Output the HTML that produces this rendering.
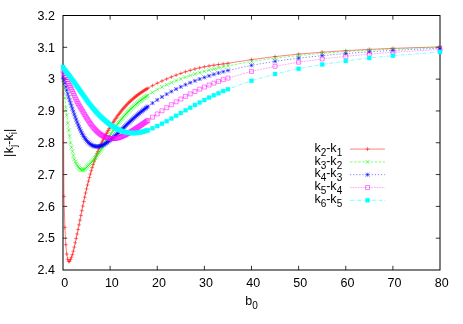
<!DOCTYPE html>
<html><head><meta charset="utf-8"><title>plot</title>
<style>
html,body{margin:0;padding:0;background:#fff;}
body{width:463px;height:324px;overflow:hidden;}
svg{display:block;will-change:transform;}
text{font-family:"Liberation Sans",sans-serif;font-size:12.5px;fill:#000;}
</style></head><body>
<svg width="463" height="324" viewBox="0 0 463 324">
<rect width="463" height="324" fill="#fff"/>
<g id="axes">
<rect x="63.0" y="15.5" width="377.0" height="254.5" fill="none" stroke="#000" stroke-width="1"/>
<path d="M110.12 270.0v-4.2M110.12 15.5v4.2M63.0 238.19h4.2M440.0 238.19h-4.2M157.25 270.0v-4.2M157.25 15.5v4.2M63.0 206.38h4.2M440.0 206.38h-4.2M204.38 270.0v-4.2M204.38 15.5v4.2M63.0 174.56h4.2M440.0 174.56h-4.2M251.5 270.0v-4.2M251.5 15.5v4.2M63.0 142.75h4.2M440.0 142.75h-4.2M298.62 270.0v-4.2M298.62 15.5v4.2M63.0 110.94h4.2M440.0 110.94h-4.2M345.75 270.0v-4.2M345.75 15.5v4.2M63.0 79.13h4.2M440.0 79.13h-4.2M392.88 270.0v-4.2M392.88 15.5v4.2M63.0 47.31h4.2M440.0 47.31h-4.2" stroke="#000" stroke-width="0.8" fill="none"/>
</g>
<g id="curves">
<path d="M63.35 80L63.94 196.44L64.89 227.49L65.83 244.68L66.77 254.08L67.71 259.36L68.66 261.59L69.6 261.22L70.54 259.51L71.48 257.29L72.42 254.55L73.37 251.17L74.31 247.14L75.25 242.79L76.2 238.41L77.14 233.99L78.08 229.48L79.02 224.85L79.97 220.14L80.91 215.41L81.85 210.72L82.79 206.1L83.73 201.59L84.68 197.21L85.62 192.97L86.56 188.89L87.5 184.96L88.45 181.19L89.39 177.57L90.33 174.1L91.28 170.78L92.22 167.6L93.16 164.57L94.1 161.68L95.05 158.92L95.99 156.29L96.93 153.79L97.87 151.41L98.81 149.13L99.76 146.96L100.7 144.86L101.64 142.85L102.59 140.9L103.53 139.02L104.47 137.2L105.41 135.43L106.36 133.7L107.3 132.01L108.24 130.37L109.18 128.75L110.12 127.17L111.07 125.62L112.01 124.11L112.95 122.63L113.9 121.19L114.84 119.78L115.78 118.4L116.72 117.05L117.67 115.74L118.61 114.46L119.55 113.22L120.49 112L121.44 110.82L122.38 109.67L123.32 108.56L124.26 107.47L125.21 106.41L126.15 105.39L127.09 104.39L128.03 103.42L128.97 102.48L129.92 101.57L130.86 100.69L131.8 99.83L132.75 99L133.69 98.19L134.63 97.4L135.57 96.64L136.52 95.89L137.46 95.17L138.4 94.46L139.34 93.77L140.29 93.1L141.23 92.45L142.17 91.81L143.11 91.18L144.06 90.57L145 89.97L145.94 89.39L146.88 88.82L147.82 88.26L152.54 85.62L157.25 83.21L161.96 80.99L166.68 78.92L171.39 76.97L176.1 75.12L180.81 73.39L185.53 71.79L190.24 70.33L194.95 69.01L199.66 67.84L204.38 66.81L209.09 65.94L213.8 65.21L218.51 64.55L223.22 63.93L227.94 63.28L251.5 59.65L275.06 56.55L298.62 54.12L322.19 52.18L345.75 50.63L369.31 49.38L392.88 48.36L440 46.87" fill="none" stroke="#ff0000" stroke-width="0.5"/>
<path d="M61.35 80H65.35M63.35 78V82M61.94 196.44H65.94M63.94 194.44V198.44M62.89 227.49H66.89M64.89 225.49V229.49M63.83 244.68H67.83M65.83 242.68V246.68M64.77 254.08H68.77M66.77 252.08V256.08M65.71 259.36H69.71M67.71 257.36V261.36M66.66 261.59H70.66M68.66 259.59V263.59M67.6 261.22H71.6M69.6 259.22V263.22M68.54 259.51H72.54M70.54 257.51V261.51M69.48 257.29H73.48M71.48 255.29V259.29M70.42 254.55H74.42M72.42 252.55V256.55M71.37 251.17H75.37M73.37 249.17V253.17M72.31 247.14H76.31M74.31 245.14V249.14M73.25 242.79H77.25M75.25 240.79V244.79M74.2 238.41H78.2M76.2 236.41V240.41M75.14 233.99H79.14M77.14 231.99V235.99M76.08 229.48H80.08M78.08 227.48V231.48M77.02 224.85H81.02M79.02 222.85V226.85M77.97 220.14H81.97M79.97 218.14V222.14M78.91 215.41H82.91M80.91 213.41V217.41M79.85 210.72H83.85M81.85 208.72V212.72M80.79 206.1H84.79M82.79 204.1V208.1M81.73 201.59H85.73M83.73 199.59V203.59M82.68 197.21H86.68M84.68 195.21V199.21M83.62 192.97H87.62M85.62 190.97V194.97M84.56 188.89H88.56M86.56 186.89V190.89M85.5 184.96H89.5M87.5 182.96V186.96M86.45 181.19H90.45M88.45 179.19V183.19M87.39 177.57H91.39M89.39 175.57V179.57M88.33 174.1H92.33M90.33 172.1V176.1M89.28 170.78H93.28M91.28 168.78V172.78M90.22 167.6H94.22M92.22 165.6V169.6M91.16 164.57H95.16M93.16 162.57V166.57M92.1 161.68H96.1M94.1 159.68V163.68M93.05 158.92H97.05M95.05 156.92V160.92M93.99 156.29H97.99M95.99 154.29V158.29M94.93 153.79H98.93M96.93 151.79V155.79M95.87 151.41H99.87M97.87 149.41V153.41M96.81 149.13H100.81M98.81 147.13V151.13M97.76 146.96H101.76M99.76 144.96V148.96M98.7 144.86H102.7M100.7 142.86V146.86M99.64 142.85H103.64M101.64 140.85V144.85M100.59 140.9H104.59M102.59 138.9V142.9M101.53 139.02H105.53M103.53 137.02V141.02M102.47 137.2H106.47M104.47 135.2V139.2M103.41 135.43H107.41M105.41 133.43V137.43M104.36 133.7H108.36M106.36 131.7V135.7M105.3 132.01H109.3M107.3 130.01V134.01M106.24 130.37H110.24M108.24 128.37V132.37M107.18 128.75H111.18M109.18 126.75V130.75M108.12 127.17H112.12M110.12 125.17V129.17M109.07 125.62H113.07M111.07 123.62V127.62M110.01 124.11H114.01M112.01 122.11V126.11M110.95 122.63H114.95M112.95 120.63V124.63M111.9 121.19H115.9M113.9 119.19V123.19M112.84 119.78H116.84M114.84 117.78V121.78M113.78 118.4H117.78M115.78 116.4V120.4M114.72 117.05H118.72M116.72 115.05V119.05M115.67 115.74H119.67M117.67 113.74V117.74M116.61 114.46H120.61M118.61 112.46V116.46M117.55 113.22H121.55M119.55 111.22V115.22M118.49 112H122.49M120.49 110V114M119.44 110.82H123.44M121.44 108.82V112.82M120.38 109.67H124.38M122.38 107.67V111.67M121.32 108.56H125.32M123.32 106.56V110.56M122.26 107.47H126.26M124.26 105.47V109.47M123.21 106.41H127.21M125.21 104.41V108.41M124.15 105.39H128.15M126.15 103.39V107.39M125.09 104.39H129.09M127.09 102.39V106.39M126.03 103.42H130.03M128.03 101.42V105.42M126.97 102.48H130.97M128.97 100.48V104.48M127.92 101.57H131.92M129.92 99.57V103.57M128.86 100.69H132.86M130.86 98.69V102.69M129.8 99.83H133.8M131.8 97.83V101.83M130.75 99H134.75M132.75 97V101M131.69 98.19H135.69M133.69 96.19V100.19M132.63 97.4H136.63M134.63 95.4V99.4M133.57 96.64H137.57M135.57 94.64V98.64M134.52 95.89H138.52M136.52 93.89V97.89M135.46 95.17H139.46M137.46 93.17V97.17M136.4 94.46H140.4M138.4 92.46V96.46M137.34 93.77H141.34M139.34 91.77V95.77M138.29 93.1H142.29M140.29 91.1V95.1M139.23 92.45H143.23M141.23 90.45V94.45M140.17 91.81H144.17M142.17 89.81V93.81M141.11 91.18H145.11M143.11 89.18V93.18M142.06 90.57H146.06M144.06 88.57V92.57M143 89.97H147M145 87.97V91.97M143.94 89.39H147.94M145.94 87.39V91.39M144.88 88.82H148.88M146.88 86.82V90.82M145.82 88.26H149.82M147.82 86.26V90.26M150.54 85.62H154.54M152.54 83.62V87.62M155.25 83.21H159.25M157.25 81.21V85.21M159.96 80.99H163.96M161.96 78.99V82.99M164.68 78.92H168.68M166.68 76.92V80.92M169.39 76.97H173.39M171.39 74.97V78.97M174.1 75.12H178.1M176.1 73.12V77.12M178.81 73.39H182.81M180.81 71.39V75.39M183.53 71.79H187.53M185.53 69.79V73.79M188.24 70.33H192.24M190.24 68.33V72.33M192.95 69.01H196.95M194.95 67.01V71.01M197.66 67.84H201.66M199.66 65.84V69.84M202.38 66.81H206.38M204.38 64.81V68.81M207.09 65.94H211.09M209.09 63.94V67.94M211.8 65.21H215.8M213.8 63.21V67.21M216.51 64.55H220.51M218.51 62.55V66.55M221.22 63.93H225.22M223.22 61.93V65.93M225.94 63.28H229.94M227.94 61.28V65.28M249.5 59.65H253.5M251.5 57.65V61.65M273.06 56.55H277.06M275.06 54.55V58.55M296.62 54.12H300.62M298.62 52.12V56.12M320.19 52.18H324.19M322.19 50.18V54.18M343.75 50.63H347.75M345.75 48.63V52.63M367.31 49.38H371.31M369.31 47.38V51.38M390.88 48.36H394.88M392.88 46.36V50.36M438 46.87H442M440 44.87V48.87" fill="none" stroke="#ff0000" stroke-width="0.5"/>
<path d="M63 80.5L63.94 88.32L64.89 98.14L65.83 107.54L66.77 115.35L67.71 123.3L68.66 130.03L69.6 136.29L70.54 142.83L71.48 147.53L72.42 151.61L73.37 155.79L74.31 159.18L75.25 161.6L76.2 163.51L77.14 165.21L78.08 166.73L79.02 167.99L79.97 168.97L80.91 169.63L81.85 169.97L82.79 169.96L83.73 169.62L84.68 169.02L85.62 168.24L86.56 167.35L87.5 166.4L88.45 165.43L89.39 164.45L90.33 163.45L91.28 162.43L92.22 161.38L93.16 160.3L94.1 159.18L95.05 158.02L95.99 156.83L96.93 155.59L97.87 154.31L98.81 153L99.76 151.64L100.7 150.24L101.64 148.8L102.59 147.32L103.53 145.82L104.47 144.31L105.41 142.78L106.36 141.25L107.3 139.73L108.24 138.2L109.18 136.69L110.12 135.19L111.07 133.7L112.01 132.24L112.95 130.8L113.9 129.38L114.84 127.99L115.78 126.63L116.72 125.29L117.67 123.99L118.61 122.72L119.55 121.49L120.49 120.28L121.44 119.11L122.38 117.97L123.32 116.85L124.26 115.77L125.21 114.71L126.15 113.68L127.09 112.67L128.03 111.68L128.97 110.72L129.92 109.78L130.86 108.87L131.8 107.97L132.75 107.09L133.69 106.23L134.63 105.4L135.57 104.57L136.52 103.77L137.46 102.99L138.4 102.22L139.34 101.46L140.29 100.72L141.23 100L142.17 99.29L143.11 98.6L144.06 97.92L145 97.25L145.94 96.59L146.88 95.95L147.82 95.32L152.54 92.34L157.25 89.61L161.96 87.12L166.68 84.81L171.39 82.69L176.1 80.71L180.81 78.88L185.53 77.17L190.24 75.58L194.95 74.08L199.66 72.68L204.38 71.36L209.09 70.11L213.8 68.94L218.51 67.83L223.22 66.78L227.94 65.78L251.5 61.52L275.06 58.18L298.62 55.52L322.19 53.37L345.75 51.62L369.31 50.18L392.88 48.98L440 47.17" fill="none" stroke="#00ff00" stroke-width="0.5" stroke-dasharray="2.6 1.5"/>
<path d="M61 78.5L65 82.5M61 82.5L65 78.5M61.94 86.32L65.94 90.32M61.94 90.32L65.94 86.32M62.89 96.14L66.89 100.14M62.89 100.14L66.89 96.14M63.83 105.54L67.83 109.54M63.83 109.54L67.83 105.54M64.77 113.35L68.77 117.35M64.77 117.35L68.77 113.35M65.71 121.3L69.71 125.3M65.71 125.3L69.71 121.3M66.66 128.03L70.66 132.03M66.66 132.03L70.66 128.03M67.6 134.29L71.6 138.29M67.6 138.29L71.6 134.29M68.54 140.83L72.54 144.83M68.54 144.83L72.54 140.83M69.48 145.53L73.48 149.53M69.48 149.53L73.48 145.53M70.42 149.61L74.42 153.61M70.42 153.61L74.42 149.61M71.37 153.79L75.37 157.79M71.37 157.79L75.37 153.79M72.31 157.18L76.31 161.18M72.31 161.18L76.31 157.18M73.25 159.6L77.25 163.6M73.25 163.6L77.25 159.6M74.2 161.51L78.2 165.51M74.2 165.51L78.2 161.51M75.14 163.21L79.14 167.21M75.14 167.21L79.14 163.21M76.08 164.73L80.08 168.73M76.08 168.73L80.08 164.73M77.02 165.99L81.02 169.99M77.02 169.99L81.02 165.99M77.97 166.97L81.97 170.97M77.97 170.97L81.97 166.97M78.91 167.63L82.91 171.63M78.91 171.63L82.91 167.63M79.85 167.97L83.85 171.97M79.85 171.97L83.85 167.97M80.79 167.96L84.79 171.96M80.79 171.96L84.79 167.96M81.73 167.62L85.73 171.62M81.73 171.62L85.73 167.62M82.68 167.02L86.68 171.02M82.68 171.02L86.68 167.02M83.62 166.24L87.62 170.24M83.62 170.24L87.62 166.24M84.56 165.35L88.56 169.35M84.56 169.35L88.56 165.35M85.5 164.4L89.5 168.4M85.5 168.4L89.5 164.4M86.45 163.43L90.45 167.43M86.45 167.43L90.45 163.43M87.39 162.45L91.39 166.45M87.39 166.45L91.39 162.45M88.33 161.45L92.33 165.45M88.33 165.45L92.33 161.45M89.28 160.43L93.28 164.43M89.28 164.43L93.28 160.43M90.22 159.38L94.22 163.38M90.22 163.38L94.22 159.38M91.16 158.3L95.16 162.3M91.16 162.3L95.16 158.3M92.1 157.18L96.1 161.18M92.1 161.18L96.1 157.18M93.05 156.02L97.05 160.02M93.05 160.02L97.05 156.02M93.99 154.83L97.99 158.83M93.99 158.83L97.99 154.83M94.93 153.59L98.93 157.59M94.93 157.59L98.93 153.59M95.87 152.31L99.87 156.31M95.87 156.31L99.87 152.31M96.81 151L100.81 155M96.81 155L100.81 151M97.76 149.64L101.76 153.64M97.76 153.64L101.76 149.64M98.7 148.24L102.7 152.24M98.7 152.24L102.7 148.24M99.64 146.8L103.64 150.8M99.64 150.8L103.64 146.8M100.59 145.32L104.59 149.32M100.59 149.32L104.59 145.32M101.53 143.82L105.53 147.82M101.53 147.82L105.53 143.82M102.47 142.31L106.47 146.31M102.47 146.31L106.47 142.31M103.41 140.78L107.41 144.78M103.41 144.78L107.41 140.78M104.36 139.25L108.36 143.25M104.36 143.25L108.36 139.25M105.3 137.73L109.3 141.73M105.3 141.73L109.3 137.73M106.24 136.2L110.24 140.2M106.24 140.2L110.24 136.2M107.18 134.69L111.18 138.69M107.18 138.69L111.18 134.69M108.12 133.19L112.12 137.19M108.12 137.19L112.12 133.19M109.07 131.7L113.07 135.7M109.07 135.7L113.07 131.7M110.01 130.24L114.01 134.24M110.01 134.24L114.01 130.24M110.95 128.8L114.95 132.8M110.95 132.8L114.95 128.8M111.9 127.38L115.9 131.38M111.9 131.38L115.9 127.38M112.84 125.99L116.84 129.99M112.84 129.99L116.84 125.99M113.78 124.63L117.78 128.63M113.78 128.63L117.78 124.63M114.72 123.29L118.72 127.29M114.72 127.29L118.72 123.29M115.67 121.99L119.67 125.99M115.67 125.99L119.67 121.99M116.61 120.72L120.61 124.72M116.61 124.72L120.61 120.72M117.55 119.49L121.55 123.49M117.55 123.49L121.55 119.49M118.49 118.28L122.49 122.28M118.49 122.28L122.49 118.28M119.44 117.11L123.44 121.11M119.44 121.11L123.44 117.11M120.38 115.97L124.38 119.97M120.38 119.97L124.38 115.97M121.32 114.85L125.32 118.85M121.32 118.85L125.32 114.85M122.26 113.77L126.26 117.77M122.26 117.77L126.26 113.77M123.21 112.71L127.21 116.71M123.21 116.71L127.21 112.71M124.15 111.68L128.15 115.68M124.15 115.68L128.15 111.68M125.09 110.67L129.09 114.67M125.09 114.67L129.09 110.67M126.03 109.68L130.03 113.68M126.03 113.68L130.03 109.68M126.97 108.72L130.97 112.72M126.97 112.72L130.97 108.72M127.92 107.78L131.92 111.78M127.92 111.78L131.92 107.78M128.86 106.87L132.86 110.87M128.86 110.87L132.86 106.87M129.8 105.97L133.8 109.97M129.8 109.97L133.8 105.97M130.75 105.09L134.75 109.09M130.75 109.09L134.75 105.09M131.69 104.23L135.69 108.23M131.69 108.23L135.69 104.23M132.63 103.4L136.63 107.4M132.63 107.4L136.63 103.4M133.57 102.57L137.57 106.57M133.57 106.57L137.57 102.57M134.52 101.77L138.52 105.77M134.52 105.77L138.52 101.77M135.46 100.99L139.46 104.99M135.46 104.99L139.46 100.99M136.4 100.22L140.4 104.22M136.4 104.22L140.4 100.22M137.34 99.46L141.34 103.46M137.34 103.46L141.34 99.46M138.29 98.72L142.29 102.72M138.29 102.72L142.29 98.72M139.23 98L143.23 102M139.23 102L143.23 98M140.17 97.29L144.17 101.29M140.17 101.29L144.17 97.29M141.11 96.6L145.11 100.6M141.11 100.6L145.11 96.6M142.06 95.92L146.06 99.92M142.06 99.92L146.06 95.92M143 95.25L147 99.25M143 99.25L147 95.25M143.94 94.59L147.94 98.59M143.94 98.59L147.94 94.59M144.88 93.95L148.88 97.95M144.88 97.95L148.88 93.95M145.82 93.32L149.82 97.32M145.82 97.32L149.82 93.32M150.54 90.34L154.54 94.34M150.54 94.34L154.54 90.34M155.25 87.61L159.25 91.61M155.25 91.61L159.25 87.61M159.96 85.12L163.96 89.12M159.96 89.12L163.96 85.12M164.68 82.81L168.68 86.81M164.68 86.81L168.68 82.81M169.39 80.69L173.39 84.69M169.39 84.69L173.39 80.69M174.1 78.71L178.1 82.71M174.1 82.71L178.1 78.71M178.81 76.88L182.81 80.88M178.81 80.88L182.81 76.88M183.53 75.17L187.53 79.17M183.53 79.17L187.53 75.17M188.24 73.58L192.24 77.58M188.24 77.58L192.24 73.58M192.95 72.08L196.95 76.08M192.95 76.08L196.95 72.08M197.66 70.68L201.66 74.68M197.66 74.68L201.66 70.68M202.38 69.36L206.38 73.36M202.38 73.36L206.38 69.36M207.09 68.11L211.09 72.11M207.09 72.11L211.09 68.11M211.8 66.94L215.8 70.94M211.8 70.94L215.8 66.94M216.51 65.83L220.51 69.83M216.51 69.83L220.51 65.83M221.22 64.78L225.22 68.78M221.22 68.78L225.22 64.78M225.94 63.78L229.94 67.78M225.94 67.78L229.94 63.78M249.5 59.52L253.5 63.52M249.5 63.52L253.5 59.52M273.06 56.18L277.06 60.18M273.06 60.18L277.06 56.18M296.62 53.52L300.62 57.52M296.62 57.52L300.62 53.52M320.19 51.37L324.19 55.37M320.19 55.37L324.19 51.37M343.75 49.62L347.75 53.62M343.75 53.62L347.75 49.62M367.31 48.18L371.31 52.18M367.31 52.18L371.31 48.18M390.88 46.98L394.88 50.98M390.88 50.98L394.88 46.98M438 45.17L442 49.17M438 49.17L442 45.17" fill="none" stroke="#00ff00" stroke-width="0.5"/>
<path d="M63 77.2L63.94 79.8L64.89 83.18L65.83 86.79L66.77 90.39L67.71 93.84L68.66 97.11L69.6 100.18L70.54 103.12L71.48 105.98L72.42 108.8L73.37 111.61L74.31 114.38L75.25 117.09L76.2 119.72L77.14 122.26L78.08 124.68L79.02 126.98L79.97 129.15L80.91 131.18L81.85 133.08L82.79 134.84L83.73 136.46L84.68 137.94L85.62 139.29L86.56 140.52L87.5 141.62L88.45 142.59L89.39 143.45L90.33 144.2L91.28 144.83L92.22 145.36L93.16 145.79L94.1 146.11L95.05 146.35L95.99 146.49L96.93 146.54L97.87 146.51L98.81 146.4L99.76 146.21L100.7 145.94L101.64 145.6L102.59 145.19L103.53 144.72L104.47 144.19L105.41 143.62L106.36 143L107.3 142.33L108.24 141.64L109.18 140.91L110.12 140.15L111.07 139.37L112.01 138.56L112.95 137.74L113.9 136.89L114.84 136.04L115.78 135.17L116.72 134.29L117.67 133.4L118.61 132.51L119.55 131.61L120.49 130.7L121.44 129.79L122.38 128.88L123.32 127.97L124.26 127.06L125.21 126.15L126.15 125.25L127.09 124.35L128.03 123.45L128.97 122.56L129.92 121.67L130.86 120.79L131.8 119.92L132.75 119.06L133.69 118.2L134.63 117.36L135.57 116.52L136.52 115.69L137.46 114.88L138.4 114.07L139.34 113.27L140.29 112.49L141.23 111.71L142.17 110.94L143.11 110.18L144.06 109.43L145 108.7L145.94 107.97L146.88 107.25L147.82 106.53L152.54 103.12L157.25 99.92L161.96 96.94L166.68 94.16L171.39 91.56L176.1 89.12L180.81 86.84L185.53 84.7L190.24 82.69L194.95 80.81L199.66 79.04L204.38 77.39L209.09 75.83L213.8 74.37L218.51 72.99L223.22 71.7L227.94 70.48L251.5 65.3L275.06 61.3L298.62 58.15L322.19 55.62L345.75 53.56L369.31 51.85L392.88 50.41L440 48.16" fill="none" stroke="#0000ff" stroke-width="0.5" stroke-dasharray="1.2 1.9"/>
<path d="M61 77.2H65M63 75.2V79.2M61 75.2L65 79.2M61 79.2L65 75.2M61.94 79.8H65.94M63.94 77.8V81.8M61.94 77.8L65.94 81.8M61.94 81.8L65.94 77.8M62.89 83.18H66.89M64.89 81.18V85.18M62.89 81.18L66.89 85.18M62.89 85.18L66.89 81.18M63.83 86.79H67.83M65.83 84.79V88.79M63.83 84.79L67.83 88.79M63.83 88.79L67.83 84.79M64.77 90.39H68.77M66.77 88.39V92.39M64.77 88.39L68.77 92.39M64.77 92.39L68.77 88.39M65.71 93.84H69.71M67.71 91.84V95.84M65.71 91.84L69.71 95.84M65.71 95.84L69.71 91.84M66.66 97.11H70.66M68.66 95.11V99.11M66.66 95.11L70.66 99.11M66.66 99.11L70.66 95.11M67.6 100.18H71.6M69.6 98.18V102.18M67.6 98.18L71.6 102.18M67.6 102.18L71.6 98.18M68.54 103.12H72.54M70.54 101.12V105.12M68.54 101.12L72.54 105.12M68.54 105.12L72.54 101.12M69.48 105.98H73.48M71.48 103.98V107.98M69.48 103.98L73.48 107.98M69.48 107.98L73.48 103.98M70.42 108.8H74.42M72.42 106.8V110.8M70.42 106.8L74.42 110.8M70.42 110.8L74.42 106.8M71.37 111.61H75.37M73.37 109.61V113.61M71.37 109.61L75.37 113.61M71.37 113.61L75.37 109.61M72.31 114.38H76.31M74.31 112.38V116.38M72.31 112.38L76.31 116.38M72.31 116.38L76.31 112.38M73.25 117.09H77.25M75.25 115.09V119.09M73.25 115.09L77.25 119.09M73.25 119.09L77.25 115.09M74.2 119.72H78.2M76.2 117.72V121.72M74.2 117.72L78.2 121.72M74.2 121.72L78.2 117.72M75.14 122.26H79.14M77.14 120.26V124.26M75.14 120.26L79.14 124.26M75.14 124.26L79.14 120.26M76.08 124.68H80.08M78.08 122.68V126.68M76.08 122.68L80.08 126.68M76.08 126.68L80.08 122.68M77.02 126.98H81.02M79.02 124.98V128.98M77.02 124.98L81.02 128.98M77.02 128.98L81.02 124.98M77.97 129.15H81.97M79.97 127.15V131.15M77.97 127.15L81.97 131.15M77.97 131.15L81.97 127.15M78.91 131.18H82.91M80.91 129.18V133.18M78.91 129.18L82.91 133.18M78.91 133.18L82.91 129.18M79.85 133.08H83.85M81.85 131.08V135.08M79.85 131.08L83.85 135.08M79.85 135.08L83.85 131.08M80.79 134.84H84.79M82.79 132.84V136.84M80.79 132.84L84.79 136.84M80.79 136.84L84.79 132.84M81.73 136.46H85.73M83.73 134.46V138.46M81.73 134.46L85.73 138.46M81.73 138.46L85.73 134.46M82.68 137.94H86.68M84.68 135.94V139.94M82.68 135.94L86.68 139.94M82.68 139.94L86.68 135.94M83.62 139.29H87.62M85.62 137.29V141.29M83.62 137.29L87.62 141.29M83.62 141.29L87.62 137.29M84.56 140.52H88.56M86.56 138.52V142.52M84.56 138.52L88.56 142.52M84.56 142.52L88.56 138.52M85.5 141.62H89.5M87.5 139.62V143.62M85.5 139.62L89.5 143.62M85.5 143.62L89.5 139.62M86.45 142.59H90.45M88.45 140.59V144.59M86.45 140.59L90.45 144.59M86.45 144.59L90.45 140.59M87.39 143.45H91.39M89.39 141.45V145.45M87.39 141.45L91.39 145.45M87.39 145.45L91.39 141.45M88.33 144.2H92.33M90.33 142.2V146.2M88.33 142.2L92.33 146.2M88.33 146.2L92.33 142.2M89.28 144.83H93.28M91.28 142.83V146.83M89.28 142.83L93.28 146.83M89.28 146.83L93.28 142.83M90.22 145.36H94.22M92.22 143.36V147.36M90.22 143.36L94.22 147.36M90.22 147.36L94.22 143.36M91.16 145.79H95.16M93.16 143.79V147.79M91.16 143.79L95.16 147.79M91.16 147.79L95.16 143.79M92.1 146.11H96.1M94.1 144.11V148.11M92.1 144.11L96.1 148.11M92.1 148.11L96.1 144.11M93.05 146.35H97.05M95.05 144.35V148.35M93.05 144.35L97.05 148.35M93.05 148.35L97.05 144.35M93.99 146.49H97.99M95.99 144.49V148.49M93.99 144.49L97.99 148.49M93.99 148.49L97.99 144.49M94.93 146.54H98.93M96.93 144.54V148.54M94.93 144.54L98.93 148.54M94.93 148.54L98.93 144.54M95.87 146.51H99.87M97.87 144.51V148.51M95.87 144.51L99.87 148.51M95.87 148.51L99.87 144.51M96.81 146.4H100.81M98.81 144.4V148.4M96.81 144.4L100.81 148.4M96.81 148.4L100.81 144.4M97.76 146.21H101.76M99.76 144.21V148.21M97.76 144.21L101.76 148.21M97.76 148.21L101.76 144.21M98.7 145.94H102.7M100.7 143.94V147.94M98.7 143.94L102.7 147.94M98.7 147.94L102.7 143.94M99.64 145.6H103.64M101.64 143.6V147.6M99.64 143.6L103.64 147.6M99.64 147.6L103.64 143.6M100.59 145.19H104.59M102.59 143.19V147.19M100.59 143.19L104.59 147.19M100.59 147.19L104.59 143.19M101.53 144.72H105.53M103.53 142.72V146.72M101.53 142.72L105.53 146.72M101.53 146.72L105.53 142.72M102.47 144.19H106.47M104.47 142.19V146.19M102.47 142.19L106.47 146.19M102.47 146.19L106.47 142.19M103.41 143.62H107.41M105.41 141.62V145.62M103.41 141.62L107.41 145.62M103.41 145.62L107.41 141.62M104.36 143H108.36M106.36 141V145M104.36 141L108.36 145M104.36 145L108.36 141M105.3 142.33H109.3M107.3 140.33V144.33M105.3 140.33L109.3 144.33M105.3 144.33L109.3 140.33M106.24 141.64H110.24M108.24 139.64V143.64M106.24 139.64L110.24 143.64M106.24 143.64L110.24 139.64M107.18 140.91H111.18M109.18 138.91V142.91M107.18 138.91L111.18 142.91M107.18 142.91L111.18 138.91M108.12 140.15H112.12M110.12 138.15V142.15M108.12 138.15L112.12 142.15M108.12 142.15L112.12 138.15M109.07 139.37H113.07M111.07 137.37V141.37M109.07 137.37L113.07 141.37M109.07 141.37L113.07 137.37M110.01 138.56H114.01M112.01 136.56V140.56M110.01 136.56L114.01 140.56M110.01 140.56L114.01 136.56M110.95 137.74H114.95M112.95 135.74V139.74M110.95 135.74L114.95 139.74M110.95 139.74L114.95 135.74M111.9 136.89H115.9M113.9 134.89V138.89M111.9 134.89L115.9 138.89M111.9 138.89L115.9 134.89M112.84 136.04H116.84M114.84 134.04V138.04M112.84 134.04L116.84 138.04M112.84 138.04L116.84 134.04M113.78 135.17H117.78M115.78 133.17V137.17M113.78 133.17L117.78 137.17M113.78 137.17L117.78 133.17M114.72 134.29H118.72M116.72 132.29V136.29M114.72 132.29L118.72 136.29M114.72 136.29L118.72 132.29M115.67 133.4H119.67M117.67 131.4V135.4M115.67 131.4L119.67 135.4M115.67 135.4L119.67 131.4M116.61 132.51H120.61M118.61 130.51V134.51M116.61 130.51L120.61 134.51M116.61 134.51L120.61 130.51M117.55 131.61H121.55M119.55 129.61V133.61M117.55 129.61L121.55 133.61M117.55 133.61L121.55 129.61M118.49 130.7H122.49M120.49 128.7V132.7M118.49 128.7L122.49 132.7M118.49 132.7L122.49 128.7M119.44 129.79H123.44M121.44 127.79V131.79M119.44 127.79L123.44 131.79M119.44 131.79L123.44 127.79M120.38 128.88H124.38M122.38 126.88V130.88M120.38 126.88L124.38 130.88M120.38 130.88L124.38 126.88M121.32 127.97H125.32M123.32 125.97V129.97M121.32 125.97L125.32 129.97M121.32 129.97L125.32 125.97M122.26 127.06H126.26M124.26 125.06V129.06M122.26 125.06L126.26 129.06M122.26 129.06L126.26 125.06M123.21 126.15H127.21M125.21 124.15V128.15M123.21 124.15L127.21 128.15M123.21 128.15L127.21 124.15M124.15 125.25H128.15M126.15 123.25V127.25M124.15 123.25L128.15 127.25M124.15 127.25L128.15 123.25M125.09 124.35H129.09M127.09 122.35V126.35M125.09 122.35L129.09 126.35M125.09 126.35L129.09 122.35M126.03 123.45H130.03M128.03 121.45V125.45M126.03 121.45L130.03 125.45M126.03 125.45L130.03 121.45M126.97 122.56H130.97M128.97 120.56V124.56M126.97 120.56L130.97 124.56M126.97 124.56L130.97 120.56M127.92 121.67H131.92M129.92 119.67V123.67M127.92 119.67L131.92 123.67M127.92 123.67L131.92 119.67M128.86 120.79H132.86M130.86 118.79V122.79M128.86 118.79L132.86 122.79M128.86 122.79L132.86 118.79M129.8 119.92H133.8M131.8 117.92V121.92M129.8 117.92L133.8 121.92M129.8 121.92L133.8 117.92M130.75 119.06H134.75M132.75 117.06V121.06M130.75 117.06L134.75 121.06M130.75 121.06L134.75 117.06M131.69 118.2H135.69M133.69 116.2V120.2M131.69 116.2L135.69 120.2M131.69 120.2L135.69 116.2M132.63 117.36H136.63M134.63 115.36V119.36M132.63 115.36L136.63 119.36M132.63 119.36L136.63 115.36M133.57 116.52H137.57M135.57 114.52V118.52M133.57 114.52L137.57 118.52M133.57 118.52L137.57 114.52M134.52 115.69H138.52M136.52 113.69V117.69M134.52 113.69L138.52 117.69M134.52 117.69L138.52 113.69M135.46 114.88H139.46M137.46 112.88V116.88M135.46 112.88L139.46 116.88M135.46 116.88L139.46 112.88M136.4 114.07H140.4M138.4 112.07V116.07M136.4 112.07L140.4 116.07M136.4 116.07L140.4 112.07M137.34 113.27H141.34M139.34 111.27V115.27M137.34 111.27L141.34 115.27M137.34 115.27L141.34 111.27M138.29 112.49H142.29M140.29 110.49V114.49M138.29 110.49L142.29 114.49M138.29 114.49L142.29 110.49M139.23 111.71H143.23M141.23 109.71V113.71M139.23 109.71L143.23 113.71M139.23 113.71L143.23 109.71M140.17 110.94H144.17M142.17 108.94V112.94M140.17 108.94L144.17 112.94M140.17 112.94L144.17 108.94M141.11 110.18H145.11M143.11 108.18V112.18M141.11 108.18L145.11 112.18M141.11 112.18L145.11 108.18M142.06 109.43H146.06M144.06 107.43V111.43M142.06 107.43L146.06 111.43M142.06 111.43L146.06 107.43M143 108.7H147M145 106.7V110.7M143 106.7L147 110.7M143 110.7L147 106.7M143.94 107.97H147.94M145.94 105.97V109.97M143.94 105.97L147.94 109.97M143.94 109.97L147.94 105.97M144.88 107.25H148.88M146.88 105.25V109.25M144.88 105.25L148.88 109.25M144.88 109.25L148.88 105.25M145.82 106.53H149.82M147.82 104.53V108.53M145.82 104.53L149.82 108.53M145.82 108.53L149.82 104.53M150.54 103.12H154.54M152.54 101.12V105.12M150.54 101.12L154.54 105.12M150.54 105.12L154.54 101.12M155.25 99.92H159.25M157.25 97.92V101.92M155.25 97.92L159.25 101.92M155.25 101.92L159.25 97.92M159.96 96.94H163.96M161.96 94.94V98.94M159.96 94.94L163.96 98.94M159.96 98.94L163.96 94.94M164.68 94.16H168.68M166.68 92.16V96.16M164.68 92.16L168.68 96.16M164.68 96.16L168.68 92.16M169.39 91.56H173.39M171.39 89.56V93.56M169.39 89.56L173.39 93.56M169.39 93.56L173.39 89.56M174.1 89.12H178.1M176.1 87.12V91.12M174.1 87.12L178.1 91.12M174.1 91.12L178.1 87.12M178.81 86.84H182.81M180.81 84.84V88.84M178.81 84.84L182.81 88.84M178.81 88.84L182.81 84.84M183.53 84.7H187.53M185.53 82.7V86.7M183.53 82.7L187.53 86.7M183.53 86.7L187.53 82.7M188.24 82.69H192.24M190.24 80.69V84.69M188.24 80.69L192.24 84.69M188.24 84.69L192.24 80.69M192.95 80.81H196.95M194.95 78.81V82.81M192.95 78.81L196.95 82.81M192.95 82.81L196.95 78.81M197.66 79.04H201.66M199.66 77.04V81.04M197.66 77.04L201.66 81.04M197.66 81.04L201.66 77.04M202.38 77.39H206.38M204.38 75.39V79.39M202.38 75.39L206.38 79.39M202.38 79.39L206.38 75.39M207.09 75.83H211.09M209.09 73.83V77.83M207.09 73.83L211.09 77.83M207.09 77.83L211.09 73.83M211.8 74.37H215.8M213.8 72.37V76.37M211.8 72.37L215.8 76.37M211.8 76.37L215.8 72.37M216.51 72.99H220.51M218.51 70.99V74.99M216.51 70.99L220.51 74.99M216.51 74.99L220.51 70.99M221.22 71.7H225.22M223.22 69.7V73.7M221.22 69.7L225.22 73.7M221.22 73.7L225.22 69.7M225.94 70.48H229.94M227.94 68.48V72.48M225.94 68.48L229.94 72.48M225.94 72.48L229.94 68.48M249.5 65.3H253.5M251.5 63.3V67.3M249.5 63.3L253.5 67.3M249.5 67.3L253.5 63.3M273.06 61.3H277.06M275.06 59.3V63.3M273.06 59.3L277.06 63.3M273.06 63.3L277.06 59.3M296.62 58.15H300.62M298.62 56.15V60.15M296.62 56.15L300.62 60.15M296.62 60.15L300.62 56.15M320.19 55.62H324.19M322.19 53.62V57.62M320.19 53.62L324.19 57.62M320.19 57.62L324.19 53.62M343.75 53.56H347.75M345.75 51.56V55.56M343.75 51.56L347.75 55.56M343.75 55.56L347.75 51.56M367.31 51.85H371.31M369.31 49.85V53.85M367.31 49.85L371.31 53.85M367.31 53.85L371.31 49.85M390.88 50.41H394.88M392.88 48.41V52.41M390.88 48.41L394.88 52.41M390.88 52.41L394.88 48.41M438 48.16H442M440 46.16V50.16M438 46.16L442 50.16M438 50.16L442 46.16" fill="none" stroke="#0000ff" stroke-width="0.5"/>
<path d="M63 71.3L63.94 73.4L64.89 75.48L65.83 77.53L66.77 79.55L67.71 81.53L68.66 83.48L69.6 85.4L70.54 87.32L71.48 89.28L72.42 91.33L73.37 93.46L74.31 95.65L75.25 97.79L76.2 99.84L77.14 101.74L78.08 103.48L79.02 105.11L79.97 106.69L80.91 108.23L81.85 109.78L82.79 111.35L83.73 112.95L84.68 114.56L85.62 116.17L86.56 117.74L87.5 119.26L88.45 120.73L89.39 122.15L90.33 123.51L91.28 124.82L92.22 126.06L93.16 127.24L94.1 128.36L95.05 129.41L95.99 130.41L96.93 131.34L97.87 132.21L98.81 133.02L99.76 133.78L100.7 134.47L101.64 135.11L102.59 135.69L103.53 136.21L104.47 136.68L105.41 137.09L106.36 137.45L107.3 137.76L108.24 138.01L109.18 138.22L110.12 138.37L111.07 138.47L112.01 138.53L112.95 138.54L113.9 138.5L114.84 138.42L115.78 138.29L116.72 138.12L117.67 137.9L118.61 137.65L119.55 137.35L120.49 137.02L121.44 136.66L122.38 136.27L123.32 135.85L124.26 135.4L125.21 134.94L126.15 134.45L127.09 133.94L128.03 133.42L128.97 132.88L129.92 132.32L130.86 131.75L131.8 131.17L132.75 130.58L133.69 129.98L134.63 129.38L135.57 128.76L136.52 128.14L137.46 127.52L138.4 126.89L139.34 126.25L140.29 125.61L141.23 124.97L142.17 124.33L143.11 123.68L144.06 123.03L145 122.38L145.94 121.73L146.88 121.08L147.82 120.43L152.54 117.17L157.25 113.95L161.96 110.79L166.68 107.7L171.39 104.7L176.1 101.82L180.81 99.04L185.53 96.39L190.24 93.86L194.95 91.46L199.66 89.19L204.38 87.05L209.09 85.03L213.8 83.13L218.51 81.35L223.22 79.67L227.94 78.09L251.5 71.4L275.06 66.25L298.62 62.2L322.19 58.96L345.75 56.32L369.31 54.14L392.88 52.32L440 49.47" fill="none" stroke="#ff00ff" stroke-width="0.5" stroke-dasharray="0.7 0.9"/>
<path d="M61 69.3H65V73.3H61ZM61.94 71.4H65.94V75.4H61.94ZM62.89 73.48H66.89V77.48H62.89ZM63.83 75.53H67.83V79.53H63.83ZM64.77 77.55H68.77V81.55H64.77ZM65.71 79.53H69.71V83.53H65.71ZM66.66 81.48H70.66V85.48H66.66ZM67.6 83.4H71.6V87.4H67.6ZM68.54 85.32H72.54V89.32H68.54ZM69.48 87.28H73.48V91.28H69.48ZM70.42 89.33H74.42V93.33H70.42ZM71.37 91.46H75.37V95.46H71.37ZM72.31 93.65H76.31V97.65H72.31ZM73.25 95.79H77.25V99.79H73.25ZM74.2 97.84H78.2V101.84H74.2ZM75.14 99.74H79.14V103.74H75.14ZM76.08 101.48H80.08V105.48H76.08ZM77.02 103.11H81.02V107.11H77.02ZM77.97 104.69H81.97V108.69H77.97ZM78.91 106.23H82.91V110.23H78.91ZM79.85 107.78H83.85V111.78H79.85ZM80.79 109.35H84.79V113.35H80.79ZM81.73 110.95H85.73V114.95H81.73ZM82.68 112.56H86.68V116.56H82.68ZM83.62 114.17H87.62V118.17H83.62ZM84.56 115.74H88.56V119.74H84.56ZM85.5 117.26H89.5V121.26H85.5ZM86.45 118.73H90.45V122.73H86.45ZM87.39 120.15H91.39V124.15H87.39ZM88.33 121.51H92.33V125.51H88.33ZM89.28 122.82H93.28V126.82H89.28ZM90.22 124.06H94.22V128.06H90.22ZM91.16 125.24H95.16V129.24H91.16ZM92.1 126.36H96.1V130.36H92.1ZM93.05 127.41H97.05V131.41H93.05ZM93.99 128.41H97.99V132.41H93.99ZM94.93 129.34H98.93V133.34H94.93ZM95.87 130.21H99.87V134.21H95.87ZM96.81 131.02H100.81V135.02H96.81ZM97.76 131.78H101.76V135.78H97.76ZM98.7 132.47H102.7V136.47H98.7ZM99.64 133.11H103.64V137.11H99.64ZM100.59 133.69H104.59V137.69H100.59ZM101.53 134.21H105.53V138.21H101.53ZM102.47 134.68H106.47V138.68H102.47ZM103.41 135.09H107.41V139.09H103.41ZM104.36 135.45H108.36V139.45H104.36ZM105.3 135.76H109.3V139.76H105.3ZM106.24 136.01H110.24V140.01H106.24ZM107.18 136.22H111.18V140.22H107.18ZM108.12 136.37H112.12V140.37H108.12ZM109.07 136.47H113.07V140.47H109.07ZM110.01 136.53H114.01V140.53H110.01ZM110.95 136.54H114.95V140.54H110.95ZM111.9 136.5H115.9V140.5H111.9ZM112.84 136.42H116.84V140.42H112.84ZM113.78 136.29H117.78V140.29H113.78ZM114.72 136.12H118.72V140.12H114.72ZM115.67 135.9H119.67V139.9H115.67ZM116.61 135.65H120.61V139.65H116.61ZM117.55 135.35H121.55V139.35H117.55ZM118.49 135.02H122.49V139.02H118.49ZM119.44 134.66H123.44V138.66H119.44ZM120.38 134.27H124.38V138.27H120.38ZM121.32 133.85H125.32V137.85H121.32ZM122.26 133.4H126.26V137.4H122.26ZM123.21 132.94H127.21V136.94H123.21ZM124.15 132.45H128.15V136.45H124.15ZM125.09 131.94H129.09V135.94H125.09ZM126.03 131.42H130.03V135.42H126.03ZM126.97 130.88H130.97V134.88H126.97ZM127.92 130.32H131.92V134.32H127.92ZM128.86 129.75H132.86V133.75H128.86ZM129.8 129.17H133.8V133.17H129.8ZM130.75 128.58H134.75V132.58H130.75ZM131.69 127.98H135.69V131.98H131.69ZM132.63 127.38H136.63V131.38H132.63ZM133.57 126.76H137.57V130.76H133.57ZM134.52 126.14H138.52V130.14H134.52ZM135.46 125.52H139.46V129.52H135.46ZM136.4 124.89H140.4V128.89H136.4ZM137.34 124.25H141.34V128.25H137.34ZM138.29 123.61H142.29V127.61H138.29ZM139.23 122.97H143.23V126.97H139.23ZM140.17 122.33H144.17V126.33H140.17ZM141.11 121.68H145.11V125.68H141.11ZM142.06 121.03H146.06V125.03H142.06ZM143 120.38H147V124.38H143ZM143.94 119.73H147.94V123.73H143.94ZM144.88 119.08H148.88V123.08H144.88ZM145.82 118.43H149.82V122.43H145.82ZM150.54 115.17H154.54V119.17H150.54ZM155.25 111.95H159.25V115.95H155.25ZM159.96 108.79H163.96V112.79H159.96ZM164.68 105.7H168.68V109.7H164.68ZM169.39 102.7H173.39V106.7H169.39ZM174.1 99.82H178.1V103.82H174.1ZM178.81 97.04H182.81V101.04H178.81ZM183.53 94.39H187.53V98.39H183.53ZM188.24 91.86H192.24V95.86H188.24ZM192.95 89.46H196.95V93.46H192.95ZM197.66 87.19H201.66V91.19H197.66ZM202.38 85.05H206.38V89.05H202.38ZM207.09 83.03H211.09V87.03H207.09ZM211.8 81.13H215.8V85.13H211.8ZM216.51 79.35H220.51V83.35H216.51ZM221.22 77.67H225.22V81.67H221.22ZM225.94 76.09H229.94V80.09H225.94ZM249.5 69.4H253.5V73.4H249.5ZM273.06 64.25H277.06V68.25H273.06ZM296.62 60.2H300.62V64.2H296.62ZM320.19 56.96H324.19V60.96H320.19ZM343.75 54.32H347.75V58.32H343.75ZM367.31 52.14H371.31V56.14H367.31ZM390.88 50.32H394.88V54.32H390.88ZM438 47.47H442V51.47H438Z" fill="none" stroke="#ff00ff" stroke-width="0.5"/>
<path d="M63 67.09L63.94 68.58L64.89 69.9L65.83 71.15L66.77 72.38L67.71 73.61L68.66 74.85L69.6 76.1L70.54 77.36L71.48 78.64L72.42 79.93L73.37 81.24L74.31 82.55L75.25 83.87L76.2 85.2L77.14 86.53L78.08 87.86L79.02 89.2L79.97 90.54L80.91 91.88L81.85 93.22L82.79 94.56L83.73 95.9L84.68 97.23L85.62 98.55L86.56 99.85L87.5 101.14L88.45 102.4L89.39 103.65L90.33 104.87L91.28 106.07L92.22 107.24L93.16 108.38L94.1 109.5L95.05 110.59L95.99 111.66L96.93 112.7L97.87 113.71L98.81 114.69L99.76 115.65L100.7 116.58L101.64 117.49L102.59 118.37L103.53 119.23L104.47 120.06L105.41 120.87L106.36 121.66L107.3 122.42L108.24 123.16L109.18 123.88L110.12 124.57L111.07 125.25L112.01 125.9L112.95 126.52L113.9 127.13L114.84 127.7L115.78 128.25L116.72 128.77L117.67 129.26L118.61 129.72L119.55 130.16L120.49 130.56L121.44 130.94L122.38 131.28L123.32 131.6L124.26 131.88L125.21 132.14L126.15 132.36L127.09 132.55L128.03 132.72L128.97 132.86L129.92 132.96L130.86 133.04L131.8 133.08L132.75 133.1L133.69 133.09L134.63 133.05L135.57 132.99L136.52 132.9L137.46 132.79L138.4 132.65L139.34 132.49L140.29 132.3L141.23 132.1L142.17 131.88L143.11 131.63L144.06 131.37L145 131.09L145.94 130.79L146.88 130.48L147.82 130.15L152.54 128.27L157.25 126.1L161.96 123.71L166.68 121.17L171.39 118.52L176.1 115.8L180.81 113.07L185.53 110.34L190.24 107.64L194.95 105.01L199.66 102.44L204.38 99.97L209.09 97.58L213.8 95.31L218.51 93.14L223.22 91.09L227.94 89.13L251.5 80.72L275.06 74.07L298.62 68.75L322.19 64.43L345.75 60.91L369.31 58.02L392.88 55.63L440 52.06" fill="none" stroke="#00ffff" stroke-width="0.5" stroke-dasharray="3.9 1.3 0.7 1.3"/>
<path d="M61 65.09H65V69.09H61ZM61.94 66.58H65.94V70.58H61.94ZM62.89 67.9H66.89V71.9H62.89ZM63.83 69.15H67.83V73.15H63.83ZM64.77 70.38H68.77V74.38H64.77ZM65.71 71.61H69.71V75.61H65.71ZM66.66 72.85H70.66V76.85H66.66ZM67.6 74.1H71.6V78.1H67.6ZM68.54 75.36H72.54V79.36H68.54ZM69.48 76.64H73.48V80.64H69.48ZM70.42 77.93H74.42V81.93H70.42ZM71.37 79.24H75.37V83.24H71.37ZM72.31 80.55H76.31V84.55H72.31ZM73.25 81.87H77.25V85.87H73.25ZM74.2 83.2H78.2V87.2H74.2ZM75.14 84.53H79.14V88.53H75.14ZM76.08 85.86H80.08V89.86H76.08ZM77.02 87.2H81.02V91.2H77.02ZM77.97 88.54H81.97V92.54H77.97ZM78.91 89.88H82.91V93.88H78.91ZM79.85 91.22H83.85V95.22H79.85ZM80.79 92.56H84.79V96.56H80.79ZM81.73 93.9H85.73V97.9H81.73ZM82.68 95.23H86.68V99.23H82.68ZM83.62 96.55H87.62V100.55H83.62ZM84.56 97.85H88.56V101.85H84.56ZM85.5 99.14H89.5V103.14H85.5ZM86.45 100.4H90.45V104.4H86.45ZM87.39 101.65H91.39V105.65H87.39ZM88.33 102.87H92.33V106.87H88.33ZM89.28 104.07H93.28V108.07H89.28ZM90.22 105.24H94.22V109.24H90.22ZM91.16 106.38H95.16V110.38H91.16ZM92.1 107.5H96.1V111.5H92.1ZM93.05 108.59H97.05V112.59H93.05ZM93.99 109.66H97.99V113.66H93.99ZM94.93 110.7H98.93V114.7H94.93ZM95.87 111.71H99.87V115.71H95.87ZM96.81 112.69H100.81V116.69H96.81ZM97.76 113.65H101.76V117.65H97.76ZM98.7 114.58H102.7V118.58H98.7ZM99.64 115.49H103.64V119.49H99.64ZM100.59 116.37H104.59V120.37H100.59ZM101.53 117.23H105.53V121.23H101.53ZM102.47 118.06H106.47V122.06H102.47ZM103.41 118.87H107.41V122.87H103.41ZM104.36 119.66H108.36V123.66H104.36ZM105.3 120.42H109.3V124.42H105.3ZM106.24 121.16H110.24V125.16H106.24ZM107.18 121.88H111.18V125.88H107.18ZM108.12 122.57H112.12V126.57H108.12ZM109.07 123.25H113.07V127.25H109.07ZM110.01 123.9H114.01V127.9H110.01ZM110.95 124.52H114.95V128.52H110.95ZM111.9 125.13H115.9V129.13H111.9ZM112.84 125.7H116.84V129.7H112.84ZM113.78 126.25H117.78V130.25H113.78ZM114.72 126.77H118.72V130.77H114.72ZM115.67 127.26H119.67V131.26H115.67ZM116.61 127.72H120.61V131.72H116.61ZM117.55 128.16H121.55V132.16H117.55ZM118.49 128.56H122.49V132.56H118.49ZM119.44 128.94H123.44V132.94H119.44ZM120.38 129.28H124.38V133.28H120.38ZM121.32 129.6H125.32V133.6H121.32ZM122.26 129.88H126.26V133.88H122.26ZM123.21 130.14H127.21V134.14H123.21ZM124.15 130.36H128.15V134.36H124.15ZM125.09 130.55H129.09V134.55H125.09ZM126.03 130.72H130.03V134.72H126.03ZM126.97 130.86H130.97V134.86H126.97ZM127.92 130.96H131.92V134.96H127.92ZM128.86 131.04H132.86V135.04H128.86ZM129.8 131.08H133.8V135.08H129.8ZM130.75 131.1H134.75V135.1H130.75ZM131.69 131.09H135.69V135.09H131.69ZM132.63 131.05H136.63V135.05H132.63ZM133.57 130.99H137.57V134.99H133.57ZM134.52 130.9H138.52V134.9H134.52ZM135.46 130.79H139.46V134.79H135.46ZM136.4 130.65H140.4V134.65H136.4ZM137.34 130.49H141.34V134.49H137.34ZM138.29 130.3H142.29V134.3H138.29ZM139.23 130.1H143.23V134.1H139.23ZM140.17 129.88H144.17V133.88H140.17ZM141.11 129.63H145.11V133.63H141.11ZM142.06 129.37H146.06V133.37H142.06ZM143 129.09H147V133.09H143ZM143.94 128.79H147.94V132.79H143.94ZM144.88 128.48H148.88V132.48H144.88ZM145.82 128.15H149.82V132.15H145.82ZM150.54 126.27H154.54V130.27H150.54ZM155.25 124.1H159.25V128.1H155.25ZM159.96 121.71H163.96V125.71H159.96ZM164.68 119.17H168.68V123.17H164.68ZM169.39 116.52H173.39V120.52H169.39ZM174.1 113.8H178.1V117.8H174.1ZM178.81 111.07H182.81V115.07H178.81ZM183.53 108.34H187.53V112.34H183.53ZM188.24 105.64H192.24V109.64H188.24ZM192.95 103.01H196.95V107.01H192.95ZM197.66 100.44H201.66V104.44H197.66ZM202.38 97.97H206.38V101.97H202.38ZM207.09 95.58H211.09V99.58H207.09ZM211.8 93.31H215.8V97.31H211.8ZM216.51 91.14H220.51V95.14H216.51ZM221.22 89.09H225.22V93.09H221.22ZM225.94 87.13H229.94V91.13H225.94ZM249.5 78.72H253.5V82.72H249.5ZM273.06 72.07H277.06V76.07H273.06ZM296.62 66.75H300.62V70.75H296.62ZM320.19 62.43H324.19V66.43H320.19ZM343.75 58.91H347.75V62.91H343.75ZM367.31 56.02H371.31V60.02H367.31ZM390.88 53.63H394.88V57.63H390.88ZM438 50.06H442V54.06H438Z" fill="#00ffff" stroke="#00ffff" stroke-width="0.3"/>
</g>
<g id="legend">
<path d="M350 149.1L384.9 149.1" fill="none" stroke="#ff0000" stroke-width="0.5"/>
<path d="M365.5 149.1H369.5M367.5 147.1V151.1" fill="none" stroke="#ff0000" stroke-width="0.5"/>
<path d="M350 161.9L384.9 161.9" fill="none" stroke="#00ff00" stroke-width="0.5" stroke-dasharray="2.6 1.5"/>
<path d="M365.5 159.9L369.5 163.9M365.5 163.9L369.5 159.9" fill="none" stroke="#00ff00" stroke-width="0.5"/>
<path d="M350 174.7L384.9 174.7" fill="none" stroke="#0000ff" stroke-width="0.5" stroke-dasharray="1.2 1.9"/>
<path d="M365.5 174.7H369.5M367.5 172.7V176.7M365.5 172.7L369.5 176.7M365.5 176.7L369.5 172.7" fill="none" stroke="#0000ff" stroke-width="0.5"/>
<path d="M350 187.5L384.9 187.5" fill="none" stroke="#ff00ff" stroke-width="0.5" stroke-dasharray="0.7 0.9"/>
<path d="M365.5 185.5H369.5V189.5H365.5Z" fill="none" stroke="#ff00ff" stroke-width="0.5"/>
<path d="M350 200.3L384.9 200.3" fill="none" stroke="#00ffff" stroke-width="0.5" stroke-dasharray="3.9 1.3 0.7 1.3"/>
<path d="M365.5 198.3H369.5V202.3H365.5Z" fill="#00ffff" stroke="#00ffff" stroke-width="0.3"/>
</g>
<g id="labels">
<text x="55" y="274.25" text-anchor="end">2.4</text>
<text x="55" y="242.44" text-anchor="end">2.5</text>
<text x="55" y="210.62" text-anchor="end">2.6</text>
<text x="55" y="178.81" text-anchor="end">2.7</text>
<text x="55" y="147" text-anchor="end">2.8</text>
<text x="55" y="115.19" text-anchor="end">2.9</text>
<text x="55" y="83.38" text-anchor="end">3</text>
<text x="55" y="51.56" text-anchor="end">3.1</text>
<text x="55" y="19.75" text-anchor="end">3.2</text>
<text x="64.7" y="286.8" text-anchor="middle">0</text>
<text x="111.83" y="286.8" text-anchor="middle">10</text>
<text x="158.95" y="286.8" text-anchor="middle">20</text>
<text x="206.07" y="286.8" text-anchor="middle">30</text>
<text x="253.2" y="286.8" text-anchor="middle">40</text>
<text x="300.32" y="286.8" text-anchor="middle">50</text>
<text x="347.45" y="286.8" text-anchor="middle">60</text>
<text x="394.57" y="286.8" text-anchor="middle">70</text>
<text x="441.7" y="286.8" text-anchor="middle">80</text>
<text x="245.2" y="305">b<tspan font-size="10" dy="4.3">0</tspan></text>
<text transform="translate(12.9 156.9) rotate(-90)">|<tspan dx="0.4">k</tspan><tspan font-size="10" dy="4.3">j</tspan><tspan dy="-4.3">-k</tspan><tspan font-size="10" dy="4.3">i</tspan><tspan dy="-4.3">|</tspan></text>
<text x="314.4" y="151.8">k<tspan font-size="10" dy="3.9">2</tspan><tspan dy="-3.9">-k</tspan><tspan font-size="10" dy="3.9">1</tspan></text>
<text x="314.4" y="164.6">k<tspan font-size="10" dy="3.9">3</tspan><tspan dy="-3.9">-k</tspan><tspan font-size="10" dy="3.9">2</tspan></text>
<text x="314.4" y="177.4">k<tspan font-size="10" dy="3.9">4</tspan><tspan dy="-3.9">-k</tspan><tspan font-size="10" dy="3.9">3</tspan></text>
<text x="314.4" y="190.2">k<tspan font-size="10" dy="3.9">5</tspan><tspan dy="-3.9">-k</tspan><tspan font-size="10" dy="3.9">4</tspan></text>
<text x="314.4" y="203">k<tspan font-size="10" dy="3.9">6</tspan><tspan dy="-3.9">-k</tspan><tspan font-size="10" dy="3.9">5</tspan></text>
</g>
</svg>
</body></html>
